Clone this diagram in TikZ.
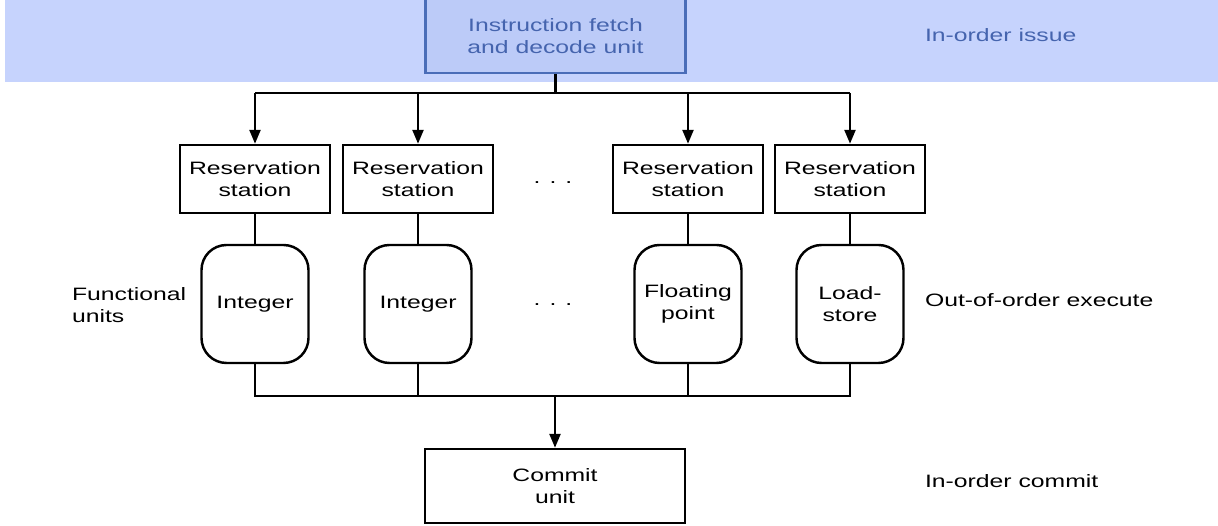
\documentclass[tikz,border=0pt]{standalone}
\usepackage{fontspec}
\setmainfont[FakeStretch=1.38]{Liberation Sans}
\usepackage{tikz}
\usetikzlibrary{arrows.meta,positioning,calc}
\definecolor{bandblue}{HTML}{C6D3FD}
\definecolor{fetchfill}{HTML}{BCCBF8}
\definecolor{fetchline}{HTML}{4A6DB8}
\definecolor{fetchtext}{HTML}{4564AE}

\begin{document}
\begin{tikzpicture}[line width=1.4pt,
		every node/.style={font=\fontsize{10.2}{12.4}\selectfont, align=center},
		station/.style={draw, rectangle, minimum width=3cm, minimum height=1.36cm, inner sep=0pt},
		unitbox/.style={draw, rectangle, rounded corners=0.5cm, minimum width=2.14cm, minimum height=2.36cm, inner sep=0pt},
		bigbox/.style={draw, rectangle, minimum width=5.2cm, minimum height=1.48cm, inner sep=0pt},
		side/.style={anchor=west, align=left},
		arr/.style={-{Triangle[length=0.28cm,width=0.22cm]}}]
	\useasboundingbox (0,0) rectangle (24.36,10.52);
	\fill[bandblue] (0.1,8.88) rectangle (24.36,10.52);

	% issue
	\node[bigbox, fill=fetchfill, draw=fetchline, text=fetchtext] (fetch) at (11.11,9.8) {Instruction fetch\\and decode unit};
	\node[side, text=fetchtext] (issue) at (18.36,9.82) {In-order issue};

	% reservation stations
	\node[station] (rs1) at (5.1,6.94) {Reservation\\station};
	\node[station] (rs2) at (8.36,6.94) {Reservation\\station};
	\node[station] (rs3) at (13.76,6.94) {Reservation\\station};
	\node[station] (rs4) at (17.0,6.94) {Reservation\\station};
	\node (dots1) at (11.06,6.86) {.\hspace{0.5em}.\hspace{0.5em}.};

	% functional units
	\node[unitbox] (fu1) at (5.1,4.44) {Integer};
	\node[unitbox] (fu2) at (8.36,4.44) {Integer};
	\node[unitbox] (fu3) at (13.76,4.44) {Floating\\point};
	\node[unitbox] (fu4) at (17.0,4.44) {Load-\\store};
	\node (dots2) at (11.06,4.42) {.\hspace{0.5em}.\hspace{0.5em}.};
	\node[side] (fulabel) at (1.3,4.42) {Functional\\units};
	\node[side] (execute) at (18.36,4.52) {Out-of-order execute};

	% commit
	\node[bigbox] (commit) at (11.1,0.8) {Commit\\unit};
	\node[side] (inorder) at (18.36,0.9) {In-order commit};

	\coordinate (bus1) at (11.11,8.66);
	\coordinate (bus2) at (11.1,2.6);

	\draw (fetch.south) -- (bus1);
	\draw (rs1.north |- bus1) -- (rs4.north |- bus1);
	\draw[arr] (rs1.north |- bus1) -- (rs1.north);
	\draw[arr] (rs2.north |- bus1) -- (rs2.north);
	\draw[arr] (rs3.north |- bus1) -- (rs3.north);
	\draw[arr] (rs4.north |- bus1) -- (rs4.north);

	\draw (rs1) -- (fu1);
	\draw (rs2) -- (fu2);
	\draw (rs3) -- (fu3);
	\draw (rs4) -- (fu4);

	\draw (fu1.south) -- (fu1.south |- bus2) -- (fu4.south |- bus2) -- (fu4.south);
	\draw (fu2.south) -- (fu2.south |- bus2);
	\draw (fu3.south) -- (fu3.south |- bus2);
	\draw[arr] (bus2) -- (commit.north);
\end{tikzpicture}
\end{document}
